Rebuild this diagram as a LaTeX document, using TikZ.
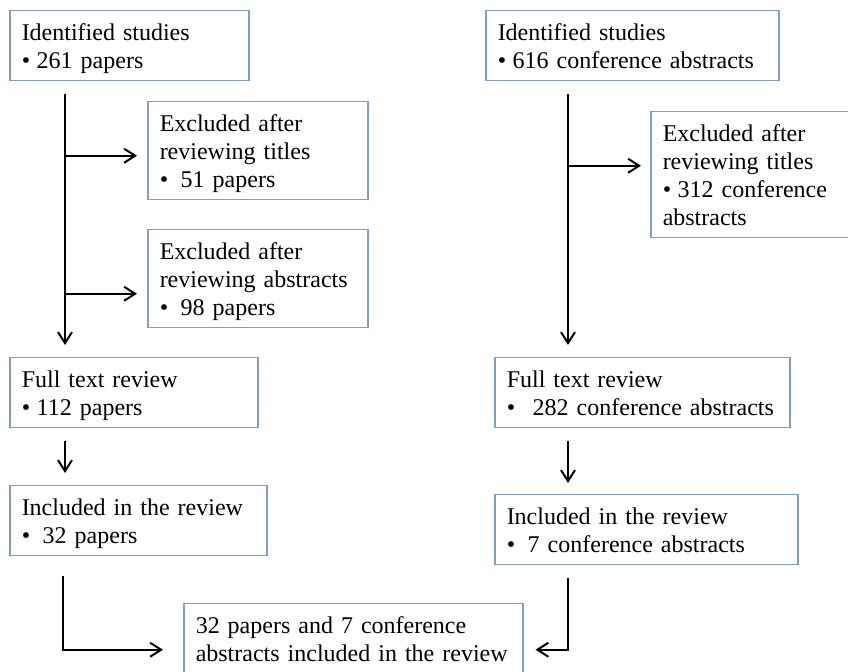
\documentclass[tikz,border=0pt]{standalone}
\usepackage{fontspec}
\setmainfont{Liberation Serif}
\usetikzlibrary{arrows.meta}
\definecolor{boxblue}{RGB}{127,157,199}
\newcommand{\bul}[1]{\makebox[#1][l]{\textbullet}}

\begin{document}
\begin{tikzpicture}[x=0.5pt,y=-0.5pt,
  flowbox/.style={draw=boxblue, line width=0.75pt, anchor=north west, align=left,
    inner xsep=6pt, inner ysep=1.5pt, font=\fontsize{12}{14}\selectfont,
    execute at begin node={\rule{0pt}{13.5pt}},
    execute at end node={\rule[-4.5pt]{0pt}{4.5pt}}},
  flowarrow/.style={line width=1pt, -{Straight Barb[length=5.5pt,width=7pt]}}]
\useasboundingbox (0,0) rectangle (848,672);
\clip (0,0) rectangle (848,672);
% papers
\node[flowbox, text width=107.5pt] (idpap) at (9,10) {Identified studies\\\bul{7.5pt}261 papers};
\node[flowbox, text width=98pt] (extitle) at (147,101) {Excluded after\\reviewing titles\\\bul{10.5pt}51 papers};
\node[flowbox, text width=98pt] (exabs) at (147,229) {Excluded after\\reviewing abstracts\\\bul{10.5pt}98 papers};
\node[flowbox, text width=112pt] (fullpap) at (9,357) {Full text review\\\bul{7.5pt}112 papers};
\node[flowbox, text width=116.5pt] (inclpap) at (9,485) {Included in the review\\\bul{10.5pt}32 papers};
% conference abstracts
\node[flowbox, text width=134.5pt] (idcon) at (485,10) {Identified studies\\\bul{7.5pt}616 conference abstracts};
\node[flowbox, text width=93pt] (excon) at (650,111) {Excluded after\\reviewing titles\\\bul{7.5pt}312 conference\\abstracts};
\node[flowbox, text width=135.5pt] (fullcon) at (494,357) {Full text review\\\bul{13pt}282 conference abstracts};
\node[flowbox, text width=139.5pt] (inclcon) at (494,494) {Included in the review\\\bul{10.5pt}7 conference abstracts};
% both
\node[flowbox, text width=157.5pt] (final) at (183,603) {32 papers and 7 conference\\abstracts included in the review};

\coordinate (trunkL) at (65,0);
\coordinate (trunkR) at (568,0);
\coordinate (elbowL) at (63,0);
\coordinate (brA) at ([yshift=-2.5pt]extitle.west);
\coordinate (brB) at ([yshift=-7.5pt]exabs.west);
\coordinate (brC) at ([yshift=4.5pt]excon.west);
\coordinate (finL) at ([yshift=-5.5pt]final.west);
\coordinate (finR) at ([yshift=-5.5pt]final.east);

\draw[flowarrow, shorten <=6.5pt, shorten >=6pt] (idpap.south -| trunkL) -- (fullpap.north -| trunkL);
\draw[flowarrow, shorten >=5pt] (brA -| trunkL) -- (brA);
\draw[flowarrow, shorten >=5pt] (brB -| trunkL) -- (brB);
\draw[flowarrow, shorten <=6.5pt, shorten >=6pt] (fullpap.south -| trunkL) -- (inclpap.north -| trunkL);
\draw[flowarrow, shorten <=10pt, shorten >=10pt] (inclpap.south -| elbowL) |- (finL);

\draw[flowarrow, shorten <=6.5pt, shorten >=6pt] (idcon.south -| trunkR) -- (fullcon.north -| trunkR);
\draw[flowarrow, shorten >=4.5pt] (brC -| trunkR) -- (brC);
\draw[flowarrow, shorten <=6.5pt, shorten >=5.5pt] (fullcon.south -| trunkR) -- (inclcon.north -| trunkR);
\draw[flowarrow, shorten <=6.5pt, shorten >=6pt] (inclcon.south -| trunkR) |- (finR);
\end{tikzpicture}
\end{document}
